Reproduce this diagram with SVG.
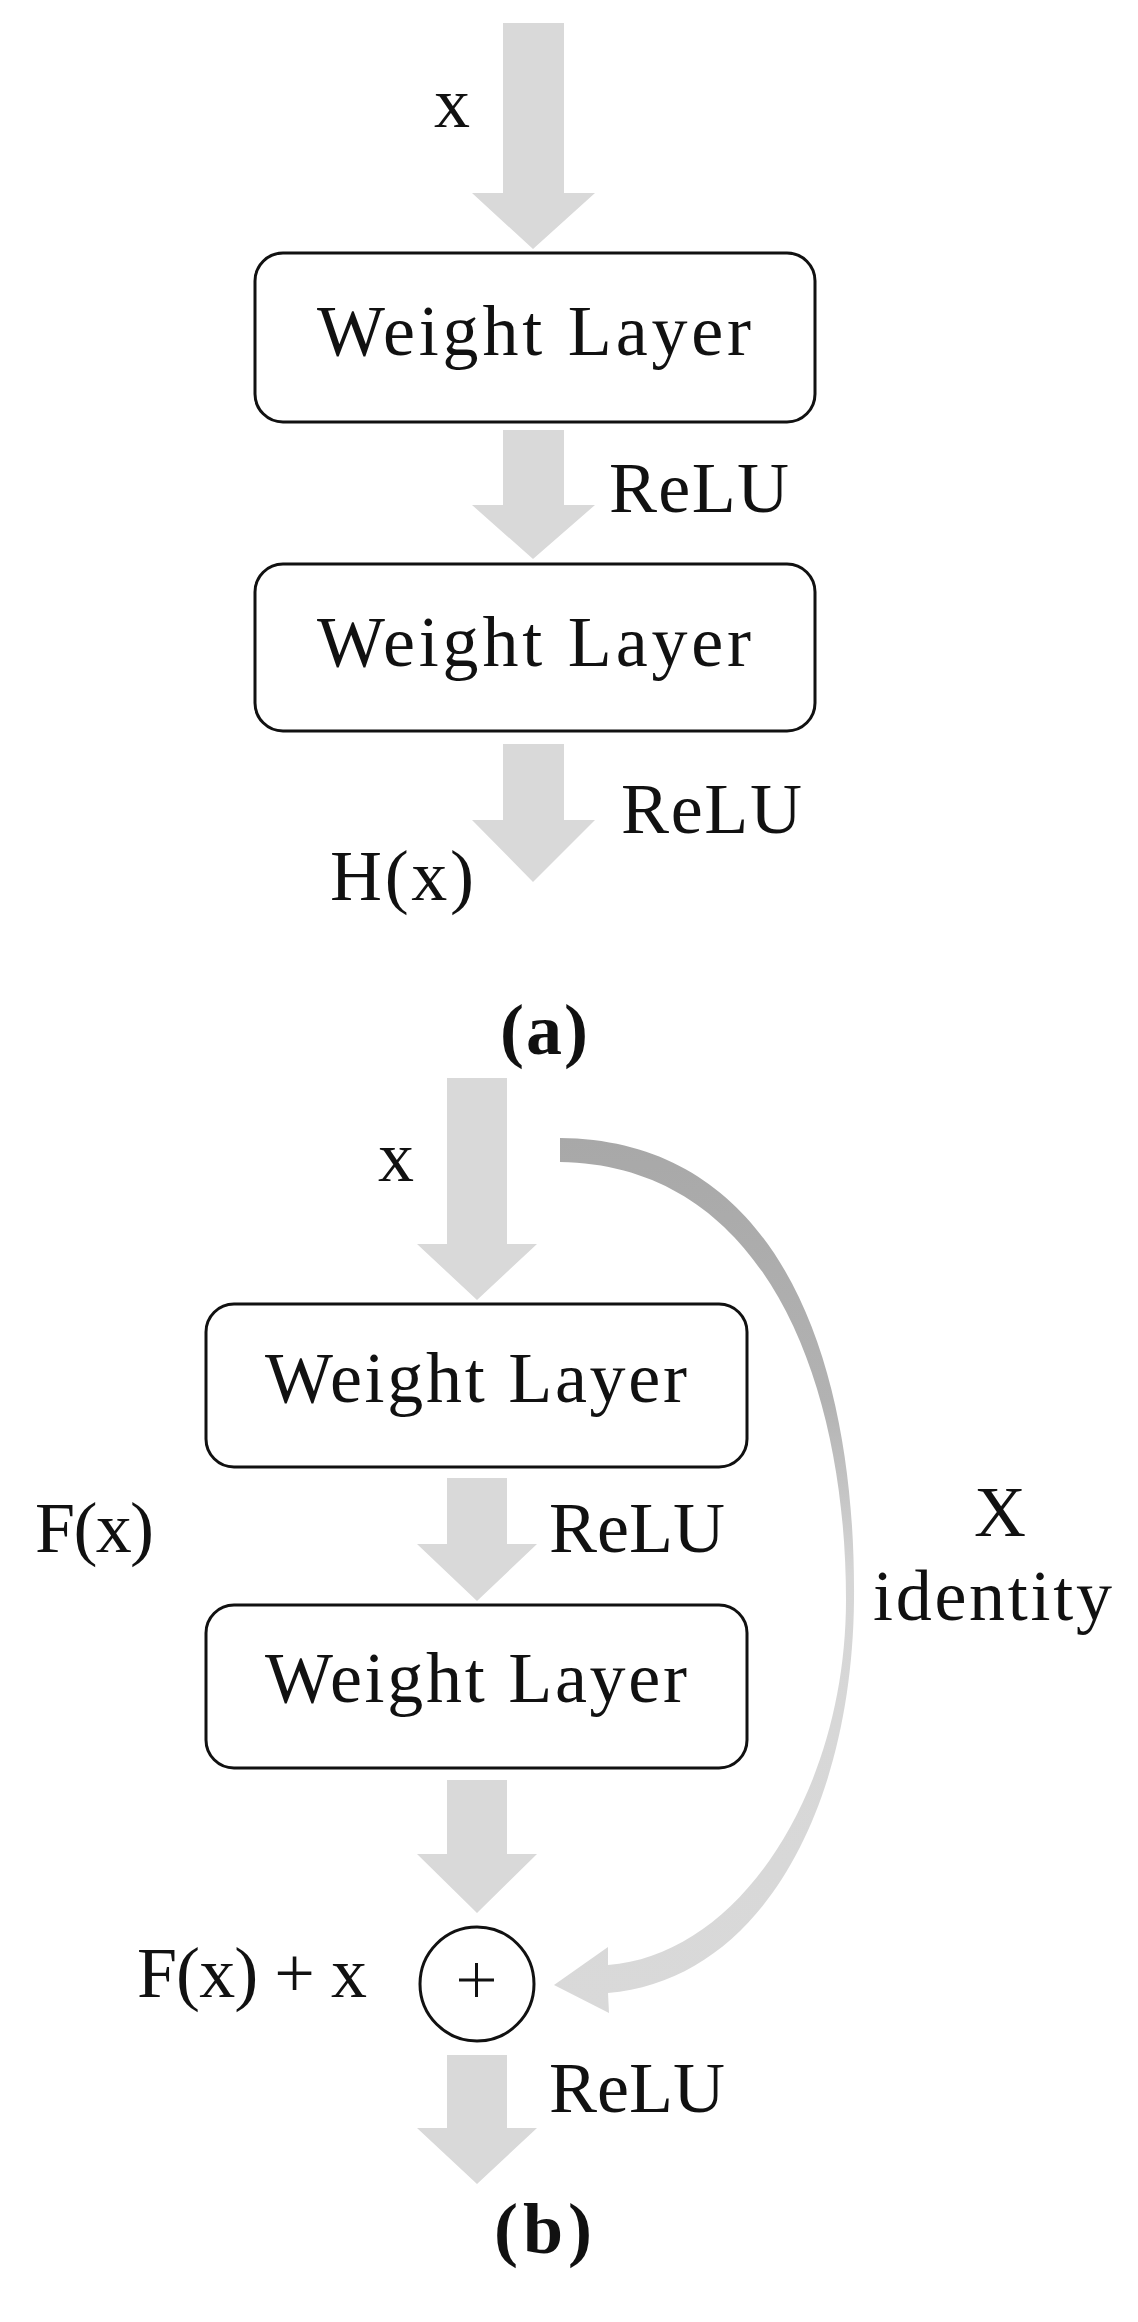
<svg xmlns="http://www.w3.org/2000/svg" width="1138" height="2322" viewBox="0 0 1138 2322">
<style>
.t{font-family:"Liberation Serif","Times New Roman",serif;font-size:72px;fill:#111}
.b{font-weight:bold}
.box{fill:#fff;stroke:#111;stroke-width:3}
.arr{fill:#d9d9d9}
</style>
<defs>
<linearGradient id="g" x1="0" y1="1138" x2="0" y2="2013" gradientUnits="userSpaceOnUse">
<stop offset="0" stop-color="#a8a8a8"/>
<stop offset="0.3" stop-color="#b2b2b2"/>
<stop offset="0.5" stop-color="#d6d6d6"/>
<stop offset="1" stop-color="#d9d9d9"/>
</linearGradient>
</defs>
<rect width="1138" height="2322" fill="#fff"/>
<g id="connectors">
<polygon class="arr" points="503,23 564,23 564,193 595,193 533,249 472,193 503,193"/>
<polygon class="arr" points="503,430 564,430 564,505 595,505 533,559 472,505 503,505"/>
<polygon class="arr" points="503,744 564,744 564,820 595,820 533,882 472,820 503,820"/>
<polygon class="arr" points="447,1078 507,1078 507,1244 537,1244 477,1300 417,1244 447,1244"/>
<polygon class="arr" points="447,1478 507,1478 507,1544 537,1544 477,1601 417,1544 447,1544"/>
<polygon class="arr" points="447,1780 507,1780 507,1854 537,1854 477,1913 417,1854 447,1854"/>
<polygon class="arr" points="447,2055 507,2055 507,2128 537,2128 477,2184 417,2128 447,2128"/>
<path id="identity" fill="url(#g)" d="M560,1138 C790,1140 856,1380 854,1600 C852,1810 760,1980 608,1993 L609,2013 L554,1985 L608,1947 L608,1965 C740,1955 846,1790 846,1600 C846,1390 770,1165 560,1162 Z"/>
</g>
<g id="a-labels">
<text class="t" x="434" y="127">x</text>
<text class="t" x="609" y="512" textLength="180">ReLU</text>
<text class="t" x="621" y="833" textLength="181">ReLU</text>
<text class="t" x="330" y="900" textLength="144">H(x)</text>
<text class="t b" x="500" y="1054" textLength="88">(a)</text>
</g>
<g id="a-box1"><rect class="box" x="255" y="253" width="560" height="169" rx="28"/><text class="t" x="317" y="355" textLength="434">Weight Layer</text></g>
<g id="a-box2"><rect class="box" x="255" y="564" width="560" height="167" rx="28"/><text class="t" x="317" y="666" textLength="434">Weight Layer</text></g>
<g id="b-box1"><rect class="box" x="206" y="1304" width="541" height="163" rx="28"/><text class="t" x="265" y="1402" textLength="422">Weight Layer</text></g>
<g id="b-box2"><rect class="box" x="206" y="1605" width="541" height="163" rx="28"/><text class="t" x="265" y="1702" textLength="422">Weight Layer</text></g>
<g id="b-plus"><circle cx="477" cy="1984" r="57" fill="#fff" stroke="#111" stroke-width="3"/><path d="M459,1980 H494 M476.5,1963 V1997" stroke="#111" stroke-width="3"/></g>
<g id="b-labels">
<text class="t" x="378" y="1181">x</text>
<text class="t" x="35" y="1552" textLength="119">F(x)</text>
<text class="t" x="549" y="1552" textLength="176">ReLU</text>
<text class="t" x="974" y="1536">X</text>
<text class="t" x="873" y="1620" textLength="239">identity</text>
<text class="t" x="137" y="1997" textLength="230">F(x) + x</text>
<text class="t" x="549" y="2112" textLength="176">ReLU</text>
<text class="t b" x="494" y="2253" textLength="98">(b)</text>
</g>
</svg>
